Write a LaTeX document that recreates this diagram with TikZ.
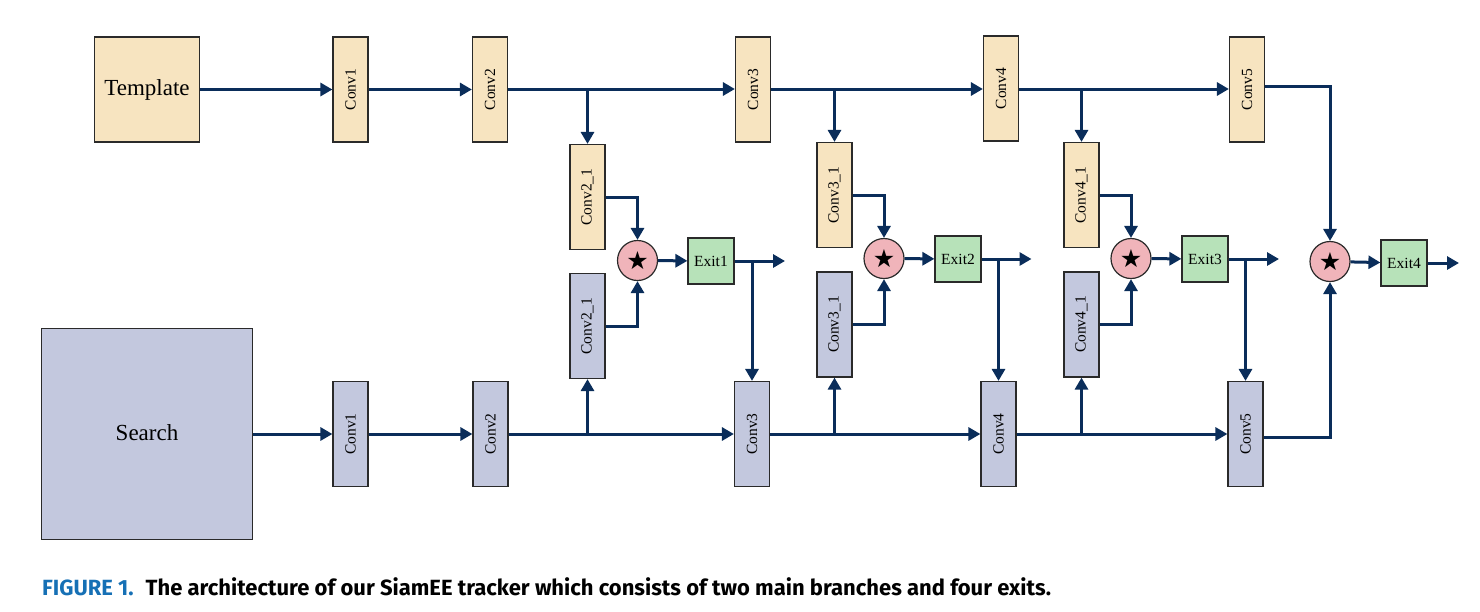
\documentclass[tikz,border=0pt]{standalone}
\usepackage{fontspec}
\setmainfont{Liberation Serif}
\newfontfamily\symfont{DejaVu Sans}
\newfontfamily\capfont{Fira Sans}
\usetikzlibrary{arrows.meta}
\definecolor{tan}{HTML}{F7E4C0}
\definecolor{slate}{HTML}{C3C8DE}
\definecolor{pinkc}{HTML}{F0B4BA}
\definecolor{greenc}{HTML}{B7E2B9}
\definecolor{navy}{HTML}{0A2D5A}
\definecolor{bord}{HTML}{2A2A2A}
\definecolor{capblue}{HTML}{1670B5}
\tikzset{
  box/.style={draw=bord, line width=1.2pt, inner sep=0pt},
  conv/.style={box, minimum width=35pt, minimum height=105pt, font=\fontsize{15.5}{15.5}\selectfont},
  tconv/.style={conv, fill=tan},
  sconv/.style={conv, fill=slate},
  bigbox/.style={box, font=\fontsize{23}{23}\selectfont},
  corr/.style={draw=bord, line width=1.2pt, circle, fill=pinkc, minimum size=40pt, inner sep=0pt, font=\symfont\fontsize{25}{25}\selectfont},
  exitbox/.style={box, fill=greenc, minimum width=46pt, minimum height=46pt, font=\fontsize{15.5}{15.5}\selectfont},
  arr/.style={draw=navy, line width=3pt, -{Triangle[length=12pt,width=13pt]}},
  ln/.style={draw=navy, line width=3pt}
}
\newcommand{\rl}[1]{\rotatebox{90}{#1}}
\begin{document}
\begin{tikzpicture}[x=1pt,y=-1pt]
\useasboundingbox (0,0) rectangle (1480,611);
% top branch
\node[bigbox, fill=tan, minimum width=105pt, minimum height=105pt] (T) at (147,89.5) {Template};
\node[tconv] (tc1) at (350.5,89.5) {\rl{Conv1}};
\node[tconv] (tc2) at (490,89.5) {\rl{Conv2}};
\node[tconv] (tc3) at (753,89.5) {\rl{Conv3}};
\node[tconv] (tc4) at (1001,88.5) {\rl{Conv4}};
\node[tconv] (tc5) at (1247,89.5) {\rl{Conv5}};
% bottom branch
\node[bigbox, fill=slate, minimum width=211pt, minimum height=211pt] (S) at (147,434) {\raisebox{3pt}{Search}};
\node[sconv] (sc1) at (350.5,434) {\rl{Conv1}};
\node[sconv] (sc2) at (490.5,434) {\rl{Conv2}};
\node[sconv] (sc3) at (752,434) {\rl{Conv3}};
\node[sconv] (sc4) at (998.5,434) {\rl{Conv4}};
\node[sconv] (sc5) at (1245.5,434) {\rl{Conv5}};
% side branches
\node[tconv] (t21) at (587.5,197) {\rl{Conv2\_1}};
\node[sconv] (s21) at (587.5,326) {\rl{Conv2\_1}};
\node[corr] (x1) at (637.5,260.5) {★};
\node[exitbox] (e1) at (711,261) {Exit1};
\coordinate (o1) at (785,261);

\node[tconv] (t31) at (834.5,195) {\rl{Conv3\_1}};
\node[sconv] (s31) at (834.5,324.5) {\rl{Conv3\_1}};
\node[corr] (x2) at (884,258.5) {★};
\node[exitbox] (e2) at (958,259) {Exit2};
\coordinate (o2) at (1031.5,259);

\node[tconv] (t41) at (1081.5,195) {\rl{Conv4\_1}};
\node[sconv] (s41) at (1081.5,324.5) {\rl{Conv4\_1}};
\node[corr] (x3) at (1131,258.5) {★};
\node[exitbox] (e3) at (1205,259) {Exit3};
\coordinate (o3) at (1279,259);

\node[corr] (x4) at (1330,261.5) {★};
\node[exitbox] (e4) at (1404,263) {Exit4};
\coordinate (o4) at (1459,263);

% top line
\draw[arr] (T) -- (tc1);
\draw[arr] (tc1) -- (tc2);
\draw[arr] (tc2.east |- 0,89) -- (tc3.west |- 0,89);
\draw[arr] (tc3.east |- 0,89) -- (tc4.west |- 0,89);
\draw[arr] (tc4.east |- 0,89) -- (tc5.west |- 0,89);
% bottom line
\draw[arr] (S) -- (sc1);
\draw[arr] (sc1) -- (sc2);
\draw[arr] (sc2) -- (sc3);
\draw[arr] (sc3) -- (sc4);
\draw[arr] (sc4) -- (sc5);
% branches down/up
\draw[arr] (t21 |- 0,89) -- (t21);
\draw[arr] (t31 |- 0,89) -- (t31);
\draw[arr] (t41 |- 0,89) -- (t41);
\draw[arr] (s21 |- sc2) -- (s21);
\draw[arr] (s31 |- sc3) -- (s31);
\draw[arr] (s41 |- sc4) -- (s41);
% into correlations
\draw[arr] (t21.east) -| (x1);
\draw[arr] (s21.east) -| (x1);
\draw[arr] (t31.east) -| (x2);
\draw[arr] (s31.east) -| (x2);
\draw[arr] (t41.east) -| (x3);
\draw[arr] (s41.east) -| (x3);
\draw[arr] (tc5.east |- 0,86) -| (x4);
\draw[arr] (sc5.east |- 0,437) -| (x4);
% exits
\draw[arr] (x1) -- (e1);
\draw[arr] (x2) -- (e2);
\draw[arr] (x3) -- (e3);
\draw[arr] (x4) -- (e4);
\draw[arr] (e1) -- (o1);
\draw[arr] (e2) -- (o2);
\draw[arr] (e3) -- (o3);
\draw[arr] (e4) -- (o4);
\draw[arr] (sc3 |- e1) -- (sc3);
\draw[arr] (sc4 |- e2) -- (sc4);
\draw[arr] (sc5 |- e3) -- (sc5);
% caption
\node[anchor=base west, inner sep=0pt, font=\capfont\bfseries\fontsize{22}{22}\selectfont] (cap) at (42,595)
  {\textcolor{capblue}{FIGURE 1.}\hspace{12pt}The architecture of our SiamEE tracker which consists of two main branches and four exits.};
\end{tikzpicture}
\end{document}
